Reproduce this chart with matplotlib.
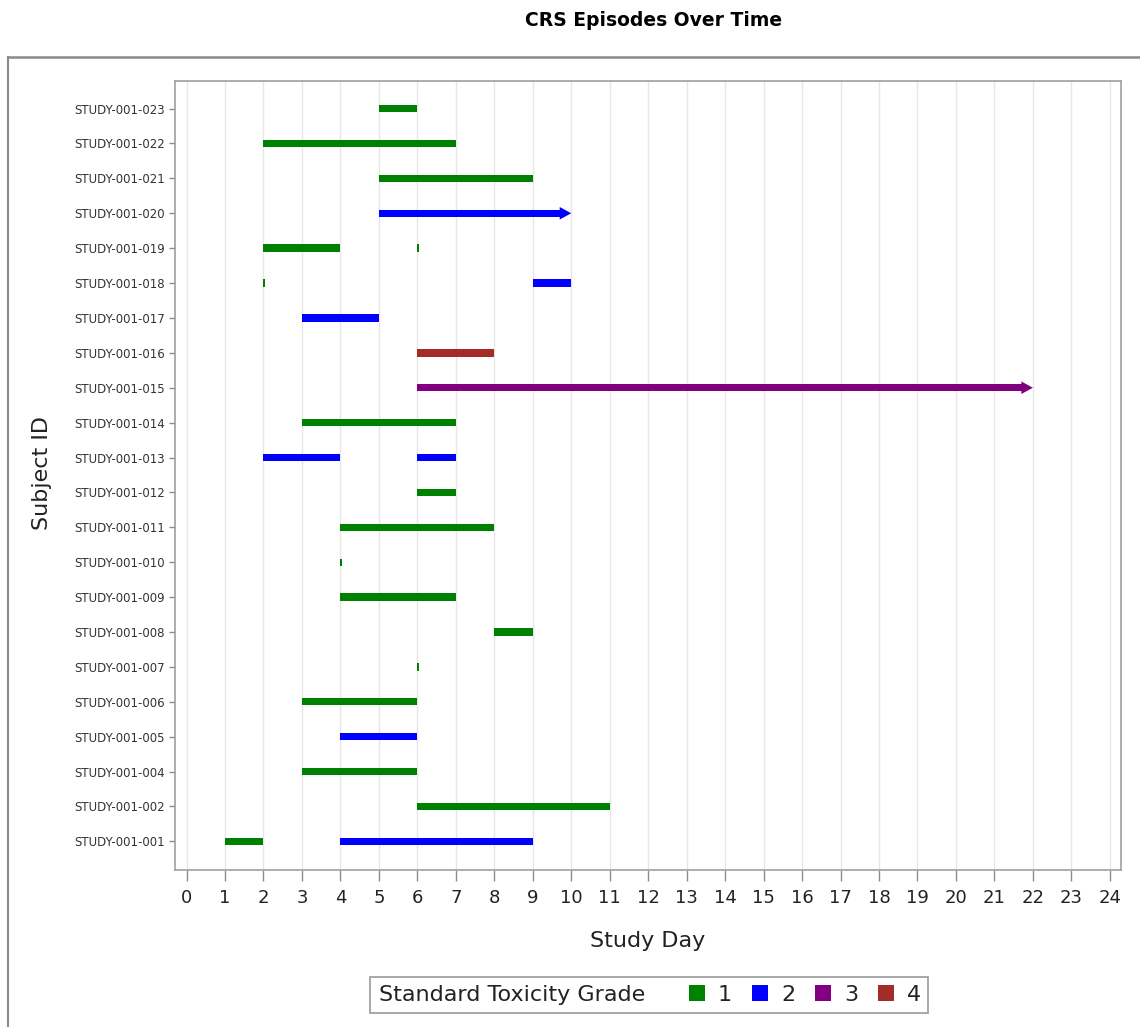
import matplotlib
matplotlib.use("Agg")
import matplotlib.pyplot as plt
from matplotlib.patches import Patch, Polygon, Rectangle
from matplotlib.lines import Line2D

# subjects, bottom row first (there is no 003)
subjects = ["STUDY-001-001", "STUDY-001-002", "STUDY-001-004", "STUDY-001-005",
            "STUDY-001-006", "STUDY-001-007", "STUDY-001-008", "STUDY-001-009",
            "STUDY-001-010", "STUDY-001-011", "STUDY-001-012", "STUDY-001-013",
            "STUDY-001-014", "STUDY-001-015", "STUDY-001-016", "STUDY-001-017",
            "STUDY-001-018", "STUDY-001-019", "STUDY-001-020", "STUDY-001-021",
            "STUDY-001-022", "STUDY-001-023"]

# one entry per CRS episode
ep_subject = ["STUDY-001-001", "STUDY-001-001", "STUDY-001-002", "STUDY-001-004",
              "STUDY-001-005", "STUDY-001-006", "STUDY-001-007", "STUDY-001-008",
              "STUDY-001-009", "STUDY-001-010", "STUDY-001-011", "STUDY-001-012",
              "STUDY-001-013", "STUDY-001-013", "STUDY-001-014", "STUDY-001-015",
              "STUDY-001-016", "STUDY-001-017", "STUDY-001-018", "STUDY-001-018",
              "STUDY-001-019", "STUDY-001-019", "STUDY-001-020", "STUDY-001-021",
              "STUDY-001-022", "STUDY-001-023"]
ep_start = [1, 4, 6, 3, 4, 3, 6, 8, 4, 4, 4, 6, 2, 6, 3, 6, 6, 3, 2, 9, 2, 6, 5, 5, 2, 5]
ep_end = [2, 9, 11, 6, 6, 6, 6, 9, 7, 4, 8, 7, 4, 7, 7, 22, 8, 5, 2, 10, 4, 6, 10, 9, 7, 6]
ep_grade = [1, 2, 1, 1, 2, 1, 1, 1, 1, 1, 1, 1, 2, 2, 1, 3, 4, 2, 1, 2, 1, 1, 2, 1, 1, 1]
ep_ongoing = [False] * 15 + [True] + [False] * 6 + [True] + [False] * 3

grade_colors = {1: "#008000", 2: "#0000FF", 3: "#800080", 4: "#A52A2A"}

W, H = 1140, 1027
fig = plt.figure(figsize=(W / 100, H / 100), dpi=100)
ax = fig.add_axes([175 / W, 1 - 870 / H, (1121 - 175) / W, (870 - 81) / H])

ypos = {s: i for i, s in enumerate(subjects)}

bar_h = 0.21
head_len = 0.28
head_half = 0.18
min_w = 0.05  # same-day episodes still get a visible tick

for subj, s, e, g, ongoing in zip(ep_subject, ep_start, ep_end, ep_grade, ep_ongoing):
    y = ypos[subj]
    c = grade_colors[g]
    if ongoing:
        # still ongoing: bar ends in an arrow head
        ax.barh(y, e - head_len - s, left=s, height=bar_h, color=c, linewidth=0)
        tri = Polygon([(e - head_len - 0.02, y - head_half), (e, y),
                       (e - head_len - 0.02, y + head_half)],
                      closed=True, facecolor=c, edgecolor="none")
        ax.add_patch(tri)
    else:
        ax.barh(y, max(e - s, min_w), left=s, height=bar_h, color=c, linewidth=0)

ax.set_xlim(-0.30, 24.29)
ax.set_ylim(-0.82, len(subjects) - 1 + 0.79)
ax.set_xticks(range(0, 25))
ax.set_yticks(range(len(subjects)))
ax.set_yticklabels(subjects)

ax.grid(axis="x", color="#e6e6e6", linewidth=1.0)
ax.set_axisbelow(True)
for sp in ax.spines.values():
    sp.set_color("#a0a0a0")
    sp.set_linewidth(1.2)

ax.tick_params(axis="x", length=8, width=1, color="#8c8c8c", pad=6,
               labelsize=13, labelcolor="#222222")
ax.tick_params(axis="y", length=4.5, width=1, color="#8c8c8c", pad=3,
               labelsize=8.5, labelcolor="#333333")

ax.set_xlabel("Study Day", fontsize=16, color="#222222", labelpad=17)
fig.text(42 / W, 1 - 473 / H, "Subject ID", rotation=90, fontsize=16,
         color="#222222", ha="center", va="center")

fig.text(653.5 / W, 1 - 20 / H, "CRS Episodes Over Time", fontsize=13.5,
         fontweight="bold", ha="center", va="center")

# outer panel border (top and left edges visible)
fig.add_artist(Line2D([8 / W, 1.0], [1 - 57 / H, 1 - 57 / H], color="#8a8a8a",
                      linewidth=1.8, transform=fig.transFigure))
fig.add_artist(Line2D([8 / W, 8 / W], [0.0, 1 - 57 / H], color="#8a8a8a",
                      linewidth=1.5, transform=fig.transFigure))

# legend: framed box with the grade title on the left and the swatches on the right
fig.add_artist(Rectangle((370 / W, 1 - 1013 / H), (928 - 370) / W, 36 / H,
                         transform=fig.transFigure, facecolor="white",
                         edgecolor="#9a9a9a", linewidth=1.2))
fig.text(379 / W, 1 - 995 / H, "Standard Toxicity Grade", fontsize=16,
         color="#222222", ha="left", va="center")
handles = [Patch(facecolor=grade_colors[g], edgecolor="none") for g in (1, 2, 3, 4)]
fig.legend(handles, ["1", "2", "3", "4"], loc="center left",
           bbox_to_anchor=(689 / W, 1 - 995 / H), ncol=4, frameon=False,
           fontsize=16, handlelength=0.7, handleheight=0.7, handletextpad=0.6,
           columnspacing=0.9, borderpad=0, borderaxespad=0,
           labelcolor="#222222")

fig.savefig("out.png", dpi=100)
